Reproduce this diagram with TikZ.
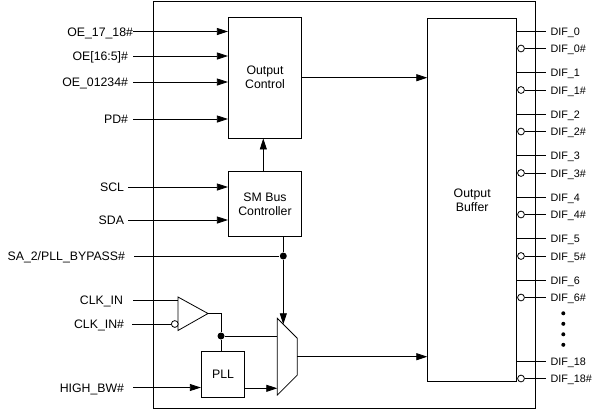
\documentclass[tikz,border=0pt]{standalone}
\usepackage{fontspec}
\setmainfont{Liberation Sans}
\usetikzlibrary{arrows.meta}

\begin{document}
\begin{tikzpicture}[x=1pt,y=-1pt,line width=0.8pt,
    font=\fontsize{12.3}{14}\selectfont,
    block/.style={draw,align=center,inner sep=0pt},
    pin/.style={anchor=east,inner sep=0pt,outer xsep=5pt,text height=9pt,text depth=0pt},
    dif/.style={anchor=west,inner sep=0pt,outer xsep=4.5pt,text height=8pt,text depth=0pt,
        font=\fontsize{10.8}{13}\selectfont},
    sig/.style={-{Triangle[length=11pt,width=7pt]}},
    bubble/.style={circle,draw,fill=white,inner sep=0pt,minimum size=6.8pt},
    junction/.style={circle,fill,inner sep=0pt,minimum size=7pt}]
    \useasboundingbox (0,0) rectangle (593,410);

    % Chip outline
    \draw (153,1.5) rectangle (535,408);

    % Blocks
    \node[block,minimum width=73.4pt,minimum height=120.7pt] (ctrl) at (265,77.7) {Output\\Control};
    \node[block,minimum width=73.4pt,minimum height=64.3pt] (smb) at (265,204) {SM Bus\\Controller};
    \node[block,minimum width=89pt,minimum height=363.4pt] (buf) at (472.2,200) {Output\\Buffer};
    \node[block,minimum width=43.5pt,minimum height=46pt] (pll) at (223,374.5) {PLL};

    % Input pins
    \node[pin,outer xsep=0pt] (oe1718) at (133,31.5) {OE\_17\_18\#};
    \node[pin] (oe165) at (133,56) {OE[16:5]\#};
    \node[pin] (oe01234) at (133,82) {OE\_01234\#};
    \node[pin] (pd) at (133,119) {PD\#};
    \node[pin,outer xsep=4pt] (scl) at (128,187) {SCL};
    \node[pin,outer xsep=4pt] (sda) at (128,220) {SDA};
    \node[pin,outer xsep=9pt] (sa2) at (134,256) {SA\_2/PLL\_BYPASS\#};
    \node[pin,outer xsep=10pt] (clkin) at (133,300) {CLK\_IN};
    \node[pin,outer xsep=8pt] (clkinb) at (132,324) {CLK\_IN\#};
    \node[pin,outer xsep=9pt] (hbw) at (133,387.5) {HIGH\_BW\#};

    % Edges into the control blocks
    \draw[sig] (oe1718.east) -- (oe1718.east -| ctrl.west);
    \draw[sig] (oe165.east) -- (oe165.east -| ctrl.west);
    \draw[sig] (oe01234.east) -- (oe01234.east -| ctrl.west);
    \draw[sig] (pd.east) -- (pd.east -| ctrl.west);
    \draw[sig] (scl.east) -- (scl.east -| smb.west);
    \draw[sig] (sda.east) -- (sda.east -| smb.west);
    \draw[sig] ([xshift=-1.7pt]smb.north) -- ([xshift=-1.7pt]ctrl.south);
    \draw[sig] (ctrl.east) -- (ctrl.east -| buf.west);

    % Clock input buffer
    \coordinate (a1) at (178,297);
    \coordinate (a2) at (208,313.5);
    \coordinate (a3) at (178,330.5);
    \draw (a1) -- (a2) -- (a3) -- cycle;
    \node[bubble] (bclk) at (174.8,324) {};
    \draw (clkin.east) -- (clkin.east -| a1);
    \draw (clkinb.east) -- (bclk.west);

    % Mux
    \coordinate (m1) at (277.3,318.3);
    \coordinate (m2) at (297.3,338.3);
    \coordinate (m3) at (297.3,375);
    \coordinate (m4) at (277.3,395);
    \coordinate (msel) at (283.3,324.3);
    \coordinate (mout) at (297.3,356.7);
    \draw (m1) -- (m2) -- (m3) -- (m4) -- cycle;

    % Junctions
    \node[junction] (jsa) at (283.3,256) {};
    \node[junction] (jclk) at (221,336) {};

    \draw (sa2.east) -- (jsa);
    \draw (smb.south -| jsa) -- (jsa);
    \draw[sig] (jsa) -- (msel);
    \draw (a2) -| (jclk);
    \draw (jclk) -- (jclk -| m1);
    \draw (jclk) -- (jclk |- pll.north);
    \draw[sig] (hbw.east) -- (hbw.east -| pll.west);
    \draw[sig] ([yshift=-13.8pt]pll.east) -- ([yshift=-13.8pt]pll.east -| m1);
    \draw[sig] (mout) -- (mout -| buf.west);

    % Differential outputs
    \foreach \n/\y in {0/31,1/72.5,2/114,3/155.5,4/197,5/238.5,6/280,18/361} {
        \node[dif] (dif\n) at (546,\y) {DIF\_\n};
        \node[dif] (difb\n) at (546,\y+17.5) {DIF\_\n\#};
        \node[bubble] (bub\n) at (521,\y+17.5) {};
        \draw (dif\n.west -| buf.east) -- (dif\n.west);
        \draw (bub\n.east) -- (difb\n.west);
    }
    \foreach \y in {313.3,323.8,334.3,344.8}
        \fill (563.3,\y) circle (2pt);
\end{tikzpicture}
\end{document}
